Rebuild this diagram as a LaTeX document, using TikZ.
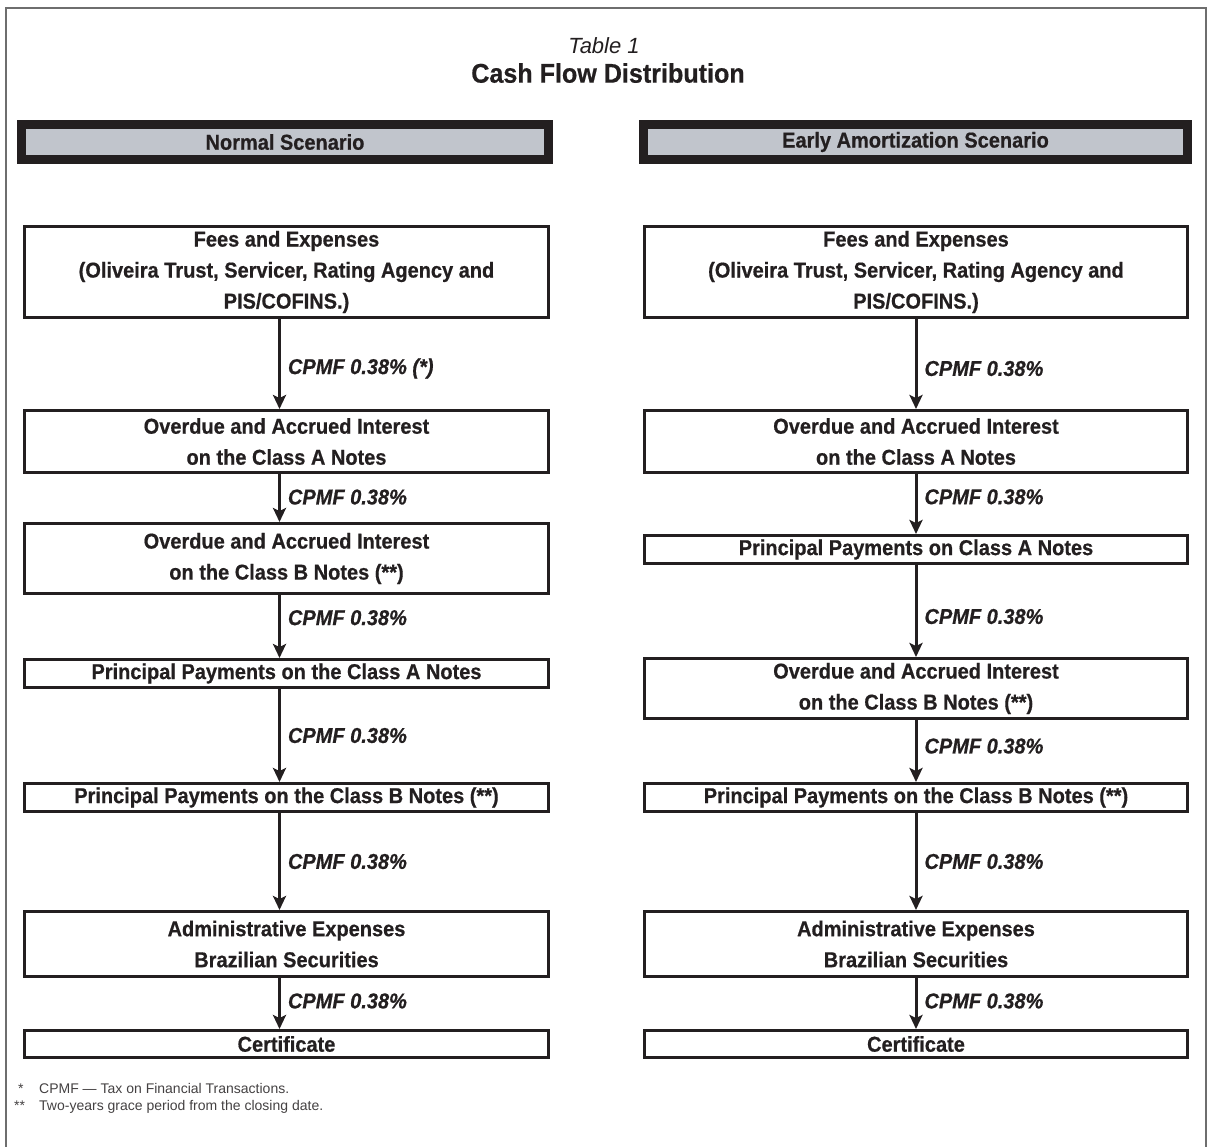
\documentclass[tikz,border=0pt]{standalone}
\usepackage{fontspec}
\setmainfont{Liberation Sans}
\newfontfamily\condfont[FakeStretch=0.93, BoldFeatures={FakeBold=0.6}, BoldItalicFeatures={FakeBold=0.6}]{Liberation Sans}
\usetikzlibrary{positioning}
\usetikzlibrary{arrows.meta}
\definecolor{ink}{HTML}{231F20}
\definecolor{headgray}{HTML}{C1C5CC}
\definecolor{framegray}{HTML}{6E6E6E}

\tikzset{
	box/.style={draw=ink, line width=3pt, minimum height=#1, inner sep=0pt, align=center, text=ink,
		font=\condfont\bfseries\fontsize{21.5}{31}\selectfont},
	lbox/.style={box=#1, minimum width=524pt},
	rbox/.style={box=#1, minimum width=543pt},
	head/.style={draw=ink, fill=headgray, line width=9pt, minimum height=35pt, inner sep=0pt, text=ink,
		font=\condfont\bfseries\fontsize{21.5}{25}\selectfont},
	flow/.style={draw=ink, line width=3pt, -{Stealth[length=14pt,width=13pt,inset=3pt]}},
	cpmf/.style={anchor=west, xshift=5pt, inner sep=2pt, text=ink,
		font=\condfont\bfseries\itshape\fontsize{21.5}{25}\selectfont},
	note/.style={anchor=base west, inner sep=0pt, text=ink!85, font=\fontsize{14}{16}\selectfont}
}

\begin{document}
\begin{tikzpicture}[x=1pt,y=-1pt]
	\useasboundingbox (0,0) rectangle (1207,1146);
	\draw[framegray, line width=1.2pt] (6,1160) |- (1206,8) -- (1206,1160);

	% title
	\node[text=ink, font=\itshape\fontsize{22}{26}\selectfont] (tab) at (604,46) {Table 1};
	\node[text=ink, font=\condfont\bfseries\fontsize{27}{32}\selectfont] (title) at (608,73) {Cash Flow Distribution};

	% scenario headers
	\node[head, minimum width=527pt] (lhead) at (285,142) {Normal Scenario};
	\node[head, minimum width=544pt] (rhead) at (915.5,142) {Early Amortization Scenario};

	% normal scenario
	\node[lbox=91] (lfees) at (286.5,272) {Fees and Expenses\\(Oliveira Trust, Servicer, Rating Agency and\\PIS/COFINS.)};
	\node[lbox=62] (lintA) at (286.5,441.5) {Overdue and Accrued Interest\\on the Class A Notes};
	\node[lbox=70] (lintB) at (286.5,558.5) {Overdue and Accrued Interest\\on the Class B Notes (**)};
	\node[lbox=28] (lprinA) at (286.5,673.5) {Principal Payments on the Class A Notes};
	\node[lbox=28] (lprinB) at (286.5,797.5) {Principal Payments on the Class B Notes (**)};
	\node[lbox=65] (ladmin) at (286.5,944) {Administrative Expenses\\Brazilian Securities};
	\node[lbox=27] (lcert) at (286.5,1044) {Certificate};

	% early amortization scenario
	\node[rbox=91] (rfees) at (916,272) {Fees and Expenses\\(Oliveira Trust, Servicer, Rating Agency and\\PIS/COFINS.)};
	\node[rbox=62] (rintA) at (916,441.5) {Overdue and Accrued Interest\\on the Class A Notes};
	\node[rbox=28] (rprinA) at (916,549.5) {Principal Payments on Class A Notes};
	\node[rbox=60] (rintB) at (916,688.5) {Overdue and Accrued Interest\\on the Class B Notes (**)};
	\node[rbox=28] (rprinB) at (916,797.5) {Principal Payments on the Class B Notes (**)};
	\node[rbox=65] (radmin) at (916,944) {Administrative Expenses\\Brazilian Securities};
	\node[rbox=27] (rcert) at (916,1044) {Certificate};

	\draw[flow] ([xshift=-7pt]lfees.south) -- node[cpmf, pos=0.55] {CPMF 0.38\% (*)} ([xshift=-7pt]lintA.north);
	\draw[flow] ([xshift=-7pt]lintA.south) -- node[cpmf, pos=0.48] {CPMF 0.38\%} ([xshift=-7pt]lintB.north);
	\draw[flow] ([xshift=-7pt]lintB.south) -- node[cpmf, pos=0.36] {CPMF 0.38\%} ([xshift=-7pt]lprinA.north);
	\draw[flow] ([xshift=-7pt]lprinA.south) -- node[cpmf, pos=0.5] {CPMF 0.38\%} ([xshift=-7pt]lprinB.north);
	\draw[flow] ([xshift=-7pt]lprinB.south) -- node[cpmf, pos=0.5] {CPMF 0.38\%} ([xshift=-7pt]ladmin.north);
	\draw[flow] ([xshift=-7pt]ladmin.south) -- node[cpmf, pos=0.45] {CPMF 0.38\%} ([xshift=-7pt]lcert.north);

	\draw[flow] (rfees) -- node[cpmf, pos=0.55] {CPMF 0.38\%} (rintA);
	\draw[flow] (rintA) -- node[cpmf, pos=0.38] {CPMF 0.38\%} (rprinA);
	\draw[flow] (rprinA) -- node[cpmf, pos=0.56] {CPMF 0.38\%} (rintB);
	\draw[flow] (rintB) -- node[cpmf, pos=0.42] {CPMF 0.38\%} (rprinB);
	\draw[flow] (rprinB) -- node[cpmf, pos=0.5] {CPMF 0.38\%} (radmin);
	\draw[flow] (radmin) -- node[cpmf, pos=0.45] {CPMF 0.38\%} (rcert);

	% footnotes
	\node[note] (star1) at (18,1093) {*};
	\node[note] (fn1) at (39,1093) {CPMF — Tax on Financial Transactions.};
	\node[note] (star2) at (14,1110) {**};
	\node[note] (fn2) at (39,1110) {Two-years grace period from the closing date.};
\end{tikzpicture}
\end{document}
